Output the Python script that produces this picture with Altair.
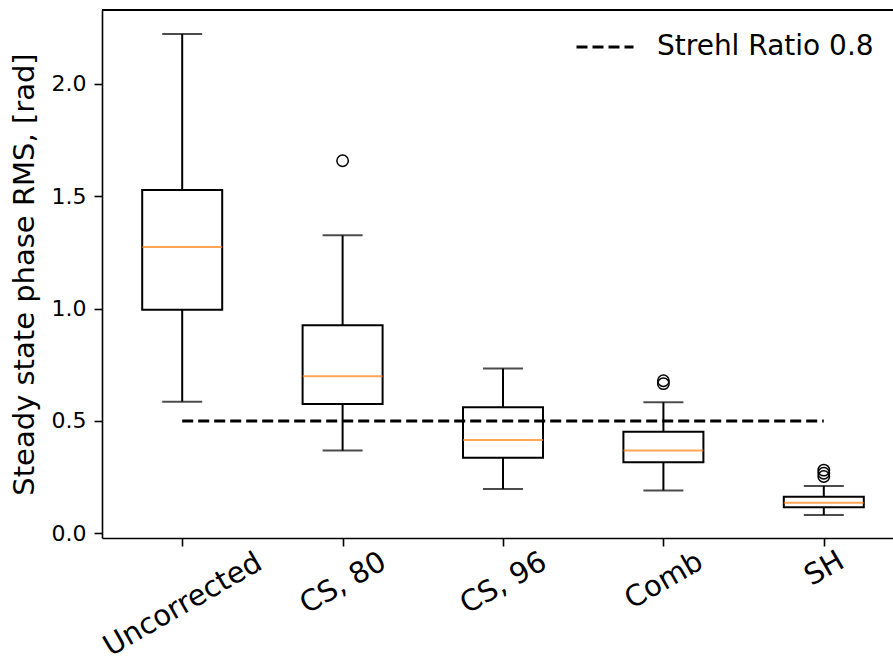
import json
import altair as alt
import pandas as pd

# ---- data ----
categories = ["Uncorrected", "CS, 80", "CS, 96", "Comb", "SH"]
positions = [1, 2, 3, 4, 5]
whisker_low = [0.586, 0.368, 0.197, 0.191, 0.081]
q1 = [0.995, 0.575, 0.336, 0.316, 0.116]
median = [1.274, 0.699, 0.415, 0.368, 0.136]
q3 = [1.528, 0.926, 0.561, 0.452, 0.163]
whisker_high = [2.222, 1.326, 0.733, 0.583, 0.211]

outlier_pos = [2, 4, 4, 5, 5, 5]
outlier_val = [1.658, 0.679, 0.666, 0.281, 0.267, 0.253]

strehl_value = 0.5
strehl_label = "Strehl Ratio 0.8"
strehl_from, strehl_to = 1, 5

# label padding per rotated tick label (keeps bounding boxes top-aligned like matplotlib)
label_pad = [58, 36.5, 36.5, 34, 22]

W, H = 791, 528
FONT = "DejaVu Sans"

stats = pd.DataFrame({
    "pos": positions, "cat": categories, "lo": whisker_low, "q1": q1,
    "med": median, "q3": q3, "hi": whisker_high,
})
outl = pd.DataFrame({"pos": outlier_pos, "val": outlier_val})
ref = pd.DataFrame({"x": [strehl_from], "x2": [strehl_to], "y": [strehl_value], "lab": [strehl_label]})

xscale = alt.Scale(domain=[0.5, 0.5 + W / 160.4], nice=False, zero=False, padding=0)
yscale = alt.Scale(domain=[-0.0209, 2.329], nice=False, zero=False, padding=0)

label_expr = json.dumps(categories) + "[datum.value - 1]"
pad_expr = json.dumps(label_pad) + "[datum.value - 1]"

x_axis = alt.Axis(
    values=positions, labelExpr=label_expr, title=None, grid=False,
    labelAngle=-30, labelAlign="center", labelBaseline="middle",
    labelPadding={"expr": pad_expr}, labelFontSize=29, labelFont=FONT,
    labelColor="black", tickSize=8, tickWidth=1.6, tickColor="black",
    domainColor="black", domainWidth=1.6, labelOverlap=False, labelFlush=False,
    labelLimit=0,
)
y_axis = alt.Axis(
    values=[0, 0.5, 1.0, 1.5, 2.0], format=".1f", grid=False,
    title="Steady state phase RMS, [rad]", titleFontSize=29, titleFont=FONT,
    titleFontWeight="normal", titleColor="black", titleAngle=-90,
    titleAlign="center", titleBaseline="alphabetic", titleX=-69, titleY=H / 2,
    labelFontSize=22, labelFont=FONT, labelColor="black", labelPadding=8,
    tickSize=8, tickWidth=1.6, tickColor="black",
    domainColor="black", domainWidth=1.6, titleLimit=0,
)

X = alt.X("pos:Q", scale=xscale, axis=x_axis)

base = alt.Chart(stats)

whisk_lo_rule = base.mark_rule(color="black", strokeWidth=2).encode(
    x=X, y=alt.Y("lo:Q", scale=yscale, axis=y_axis), y2="q1:Q")
whisk_hi_rule = base.mark_rule(color="black", strokeWidth=2).encode(
    x="pos:Q", y="q3:Q", y2="hi:Q")
cap_lo = base.mark_tick(orient="horizontal", size=40, thickness=2, color="black").encode(
    x="pos:Q", y="lo:Q")
cap_hi = base.mark_tick(orient="horizontal", size=40, thickness=2, color="black").encode(
    x="pos:Q", y="hi:Q")
box = base.mark_bar(size=80, fill="white", stroke="black", strokeWidth=2).encode(
    x="pos:Q", y="q1:Q", y2="q3:Q")
med_tick = base.mark_tick(orient="horizontal", size=80, thickness=2, color="#ff7f0e").encode(
    x="pos:Q", y="med:Q")

points = alt.Chart(outl).mark_point(
    shape="circle", filled=False, size=130, color="black", strokeWidth=1.5, opacity=1
).encode(x="pos:Q", y="val:Q")

ref_line = alt.Chart(ref).mark_rule(strokeWidth=3, color="black").encode(
    x="x:Q", x2="x2:Q", y="y:Q",
    strokeDash=alt.StrokeDash(
        "lab:N",
        scale=alt.Scale(domain=[strehl_label], range=[[11, 5]]),
        legend=alt.Legend(
            title=None, orient="none", legendX=473, legendY=7,
            symbolType="stroke", symbolSize=3249, symbolStrokeWidth=3,
            symbolStrokeColor="black", labelFontSize=28, labelFont=FONT,
            labelColor="black", labelOffset=22, padding=0, labelLimit=0,
        ),
    ),
)

top_spine = alt.Chart(stats).mark_rule(color="black", strokeWidth=1.6).encode(
    y=alt.value(0), x=alt.value(0), x2=alt.value(W))

chart = alt.layer(
    whisk_lo_rule, whisk_hi_rule, cap_lo, cap_hi, box, med_tick, points, ref_line, top_spine
).properties(
    width=W, height=H,
    autosize=alt.AutoSizeParams(type="none"),
    padding={"left": 102, "top": 10, "right": 0, "bottom": 121},
    background="white",
).configure_view(stroke=None)

chart.save("out.html", embed_options={"renderer": "svg", "actions": False})
